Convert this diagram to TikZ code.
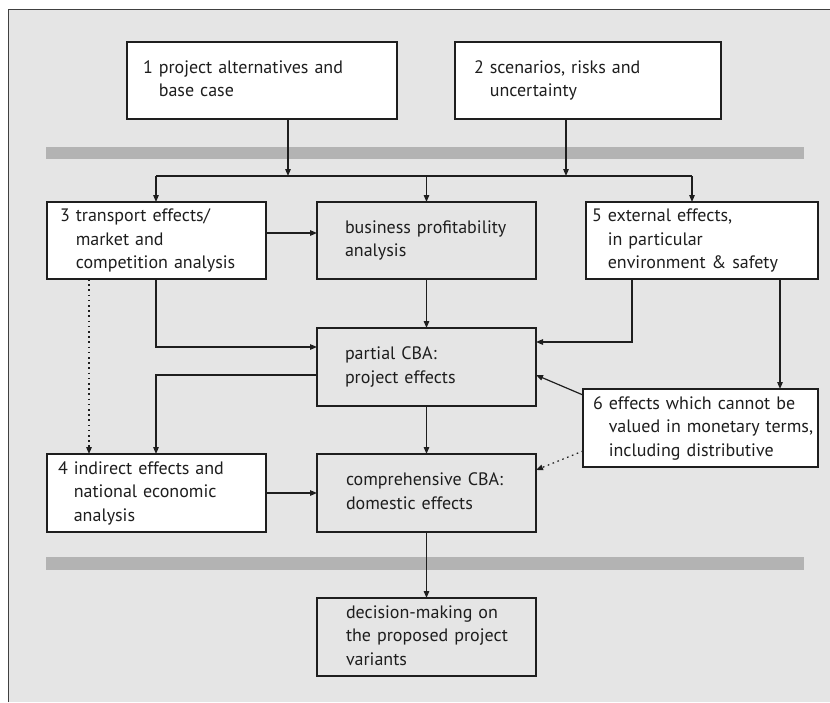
\documentclass[tikz,border=0pt]{standalone}
\usepackage{fontspec}
\setmainfont{PT Sans}
\usetikzlibrary{arrows.meta}
\definecolor{bg}{HTML}{E5E5E5}
\definecolor{band}{HTML}{B3B3B3}
\definecolor{ink}{HTML}{1E1E1E}
\begin{document}
\begin{tikzpicture}[x=1pt,y=-1pt,
  font=\fontsize{18}{23.5}\selectfont,
  box/.style={draw=ink, line width=1.2pt, rectangle, anchor=north west, outer sep=0pt, inner ysep=0pt, align=left, text=ink},
  wbox/.style={box, fill=white},
  gbox/.style={box, fill=bg},
  arr/.style={-{Triangle[length=7pt,width=5.5pt]}, line width=1.2pt, draw=ink},
  plain/.style={line width=1.2pt, draw=ink},
  dots/.style={arr, dash pattern=on 1.6pt off 3.6pt}]
\useasboundingbox (0,0) rectangle (830,702);
\fill[bg] (8,9) rectangle (830,702);
\draw[line width=1pt, draw=black!75] (8,702) -- (8,9) -- (830,9);
% bands
\fill[band] (46,147) rectangle (804,159);
\fill[band] (46,557) rectangle (804,570);
% boxes
\node[wbox, minimum width=270, minimum height=77, inner xsep=16, text width=238] (b1) at (127,42)
  {\begin{tabular}{@{}l@{\ }l@{}}1&project alternatives and\\&base case\end{tabular}};
\node[wbox, minimum width=266, minimum height=77, inner xsep=19, text width=228] (b2) at (455,42)
  {\begin{tabular}{@{}l@{\ }l@{}}2&scenarios, risks and\\&uncertainty\end{tabular}};
\node[wbox, minimum width=219, minimum height=77, inner xsep=13, text width=193] (b3) at (47,202)
  {\begin{tabular}{@{}l@{\ }l@{}}3&transport effects/\\&market and\\&competition analysis\end{tabular}};
\node[gbox, minimum width=219, minimum height=77, inner xsep=28, text width=163] (bp) at (317,202)
  {\begin{tabular}{@{}l@{}}business profitability\\analysis\end{tabular}};
\node[wbox, minimum width=232, minimum height=77, inner xsep=6, text width=220] (b5) at (586,202)
  {\begin{tabular}{@{}l@{\ }l@{}}5&external effects,\\&in particular\\&environment \& safety\end{tabular}};
\node[gbox, minimum width=219, minimum height=78, inner xsep=28, text width=163] (pc) at (317,328)
  {\begin{tabular}{@{}l@{}}partial CBA:\\project effects\end{tabular}};
\node[wbox, minimum width=235, minimum height=78, inner xsep=10, text width=215] (b6) at (583,389)
  {\begin{tabular}{@{}l@{\ }l@{}}6&effects which cannot be\\&valued in monetary terms,\\&including distributive\end{tabular}};
\node[wbox, minimum width=219, minimum height=78, inner xsep=11, text width=197] (b4) at (47,454)
  {\begin{tabular}{@{}l@{\ }l@{}}4&indirect effects and\\&national economic\\&analysis\end{tabular}};
\node[gbox, minimum width=219, minimum height=78, inner xsep=29, text width=161] (cc) at (317,454)
  {\begin{tabular}{@{}l@{}}comprehensive CBA:\\domestic effects\end{tabular}};
\node[gbox, minimum width=219, minimum height=78, inner xsep=29, text width=161] (dm) at (317,598)
  {\begin{tabular}{@{}l@{}}decision-making on\\the proposed project\\variants\end{tabular}};
% junction coordinates
\coordinate (jl) at (156,176);
\coordinate (j1) at (288,176);
\coordinate (jm) at (426.5,176);
\coordinate (j2) at (566,176);
\coordinate (jr) at (692,176);
\coordinate (ya) at (0,233);
\coordinate (k1) at (156,347);
\coordinate (k2) at (632,342);
\coordinate (k3) at (780,300);
\coordinate (s6a) at (0,395);
\coordinate (t6a) at (0,375);
\coordinate (k4) at (156,375);
\coordinate (k5) at (89,300);
\coordinate (s6b) at (0,451);
\coordinate (t6b) at (0,470);
% connectors
\draw[arr] (b1.south -| j1) -- (j1);
\draw[arr] (b2.south -| j2) -- (j2);
\draw[plain] (jl) -- (jr);
\draw[arr] (jl) -- (b3.north -| jl);
\draw[arr] (jm) -- (bp.north);
\draw[arr] (jr) -- (b5.north -| jr);
\draw[arr] (b3.east |- ya) -- (bp.west |- ya);
\draw[arr] (bp.south) -- (pc.north);
\draw[arr] (b3.south -| k1) -- (k1) -- (pc.west |- k1);
\draw[arr] (b5.south -| k2) -- (k2) -- (pc.east |- k2);
\draw[arr] (b5.south -| k3) -- (b6.north -| k3);
\draw[arr] (b6.west |- s6a) -- (pc.east |- t6a);
\draw[arr] (pc.west |- k4) -- (k4) -- (b4.north -| k4);
\draw[dots] (b3.south -| k5) -- (b4.north -| k5);
\draw[arr] (pc.south) -- (cc.north);
\draw[arr] (b4) -- (cc);
\draw[dots] (b6.west |- s6b) -- (cc.east |- t6b);
\draw[arr] (cc.south) -- (dm.north);
\end{tikzpicture}
\end{document}
